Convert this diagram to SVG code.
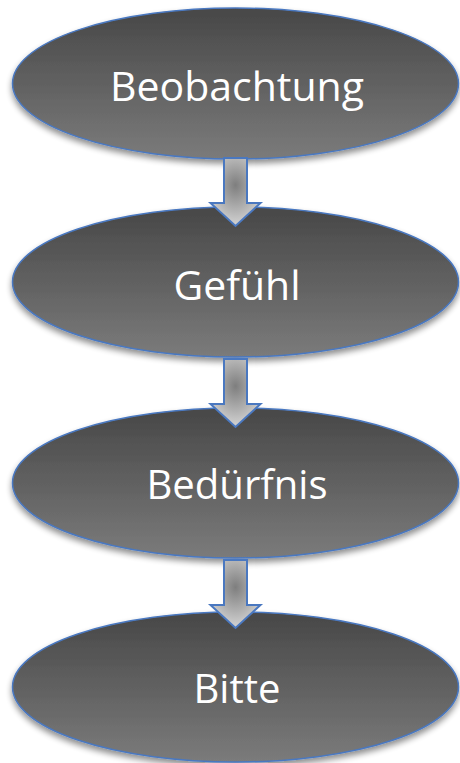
<svg xmlns="http://www.w3.org/2000/svg" width="460" height="763" viewBox="0 0 460 763">
  <defs>
    <linearGradient id="nodeFill" x1="0" y1="0" x2="0" y2="1">
      <stop offset="0" stop-color="#474747"/>
      <stop offset="1" stop-color="#7b7b7b"/>
    </linearGradient>
    <radialGradient id="arrowFill" cx="0.5" cy="0.4" r="0.6">
      <stop offset="0" stop-color="#7e7e7e"/>
      <stop offset="1" stop-color="#d4d4d4"/>
    </radialGradient>
    <filter id="shadow" x="-10%" y="-20%" width="120%" height="150%">
      <feGaussianBlur in="SourceAlpha" stdDeviation="3"/>
      <feOffset dx="0" dy="4" result="b"/>
      <feComponentTransfer><feFuncA type="linear" slope="0.45"/></feComponentTransfer>
      <feMerge><feMergeNode/><feMergeNode in="SourceGraphic"/></feMerge>
    </filter>
    <!-- block arrow pointing down, origin at top centre of shaft -->
    <path id="blockArrow" d="M -11.5 0 H 11.5 V 45 H 25 L 0 68 L -25 45 H -11.5 Z"/>
  </defs>
  <style>
    .node ellipse { fill: url(#nodeFill); stroke: #4a78c0; stroke-width: 1.5; filter: url(#shadow); }
    .node text { font-family: "Open Sans", "Noto Sans", sans-serif; font-size: 40px; fill: #ffffff; text-anchor: middle; }
    .conn use { fill: url(#arrowFill); stroke: #4a78c0; stroke-width: 2; stroke-linejoin: miter; }
  </style>
  <rect width="460" height="763" fill="#ffffff"/>

  <g id="n1" class="node">
    <ellipse cx="235.5" cy="83.5" rx="223" ry="75.5"/>
    <text x="237" y="101" textLength="254" lengthAdjust="spacingAndGlyphs">Beobachtung</text>
  </g>
  <g id="n2" class="node">
    <ellipse cx="235.5" cy="282" rx="223" ry="75"/>
    <text x="237" y="300" textLength="127" lengthAdjust="spacingAndGlyphs">Gefühl</text>
  </g>
  <g id="n3" class="node">
    <ellipse cx="235.5" cy="483" rx="223" ry="75"/>
    <text x="237" y="499" textLength="181" lengthAdjust="spacingAndGlyphs">Bedürfnis</text>
  </g>
  <g id="n4" class="node">
    <ellipse cx="235.5" cy="687" rx="223" ry="75"/>
    <text x="237" y="703" textLength="87" lengthAdjust="spacingAndGlyphs">Bitte</text>
  </g>

  <g id="connectors" class="conn">
    <use href="#blockArrow" x="235.5" y="158"/>
    <use href="#blockArrow" x="235.5" y="359"/>
    <use href="#blockArrow" x="235.5" y="560"/>
  </g>
</svg>
